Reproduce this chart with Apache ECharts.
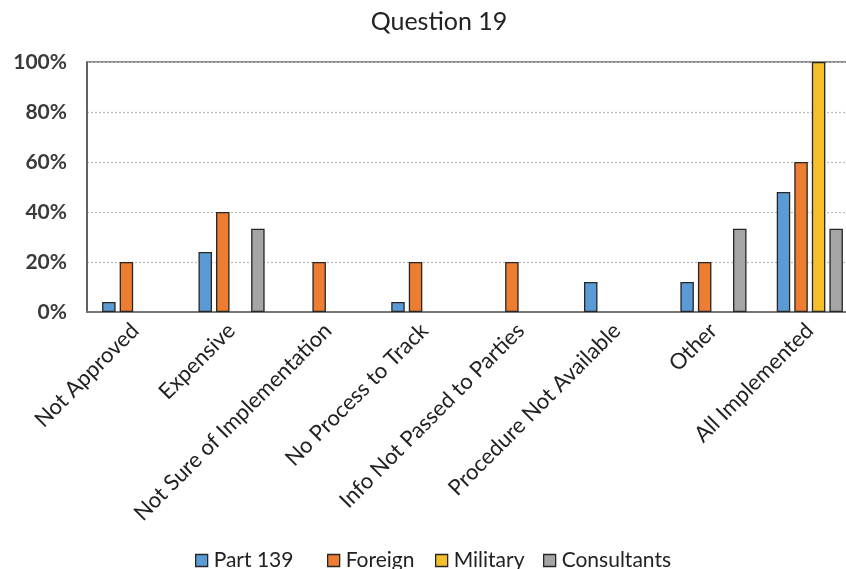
<!DOCTYPE html>
<html>
<head>
<meta charset="utf-8">
<script src="https://cdn.jsdelivr.net/npm/echarts@6/dist/echarts.min.js"></script>
<style>
  html, body { margin: 0; padding: 0; background: #fff; overflow: hidden; }
  #chart { width: 862px; height: 569px; }
</style>
</head>
<body>
<div id="chart"></div>
<script>
// Survey responses for Question 19, percent of respondents per group
const categories = [
  'Not Approved', 'Expensive', 'Not Sure of Implementation', 'No Process to Track',
  'Info Not Passed to Parties', 'Procedure Not Available', 'Other', 'All Implemented'
];
const seriesNames = ['Part 139', 'Foreign', 'Military', 'Consultants'];
const part139     = [4, 24, 0, 4, 0, 12, 12, 48];
const foreign     = [20, 40, 20, 20, 20, 0, 20, 60];
const military    = [0, 0, 0, 0, 0, 0, 0, 100];
const consultants = [0, 33.3, 0, 0, 0, 0, 33.3, 33.3];
const yTicks = [0, 20, 40, 60, 80, 100];

const FONT = 'Lato, "Open Sans", sans-serif';
const colors = ['#5b9bd5', '#ed7d31', '#f5bf2a', '#a5a5a5'];
const legendLeft = [195, 327, 435, 543];
const chart = echarts.init(document.getElementById('chart'));

// groups with no responses get no bar at all
function barSeries(name, data, color) {
  return {
    name: name,
    type: 'bar',
    data: data.map(v => (v === 0 ? '-' : v)),
    barWidth: 13.5,
    barGap: '30%',
    itemStyle: { color: color, borderColor: '#262626', borderWidth: 1.3 }
  };
}

chart.setOption({
  animation: false,
  color: colors,
  title: {
    text: 'Question 19',
    left: 434,
    textAlign: 'center',
    top: 4,
    textStyle: { fontFamily: FONT, fontSize: 25, fontWeight: 'normal', color: '#222' }
  },
  // one legend block per series so each key sits in its own slot
  legend: seriesNames.map((name, i) => ({
    top: 545,
    left: legendLeft[i] - 5,
    itemWidth: 12,
    itemHeight: 12,
    itemGap: 0,
    icon: 'rect',
    textStyle: { fontFamily: FONT, fontSize: 21, color: '#222', padding: [0, 0, 0, 1] },
    data: [name],
    itemStyle: { borderColor: '#262626', borderWidth: 1.3 }
  })),
  grid: {
    left: 87, top: 62, height: 250, width: 771,
    show: true, borderColor: '#666', borderWidth: 1.5, backgroundColor: '#fff'
  },
  xAxis: {
    type: 'category',
    data: categories,
    axisLine: { lineStyle: { color: '#777', width: 2 } },
    axisTick: { show: false },
    axisLabel: {
      rotate: 45, interval: 0, margin: 15,
      fontFamily: FONT, fontSize: 22, color: '#222'
    }
  },
  yAxis: {
    type: 'value',
    min: yTicks[0],
    max: yTicks[yTicks.length - 1],
    interval: 20,
    axisLine: { show: true, lineStyle: { color: '#555', width: 1.5 } },
    axisTick: { show: false },
    axisLabel: {
      formatter: '{value}%', margin: 20,
      fontFamily: FONT, fontSize: 21, fontWeight: 'bold', color: '#3a3a3a'
    },
    splitLine: { lineStyle: { color: '#bbb', type: [2, 2], width: 1.2 } }
  },
  series: [
    barSeries(seriesNames[0], part139, colors[0]),
    barSeries(seriesNames[1], foreign, colors[1]),
    barSeries(seriesNames[2], military, colors[2]),
    barSeries(seriesNames[3], consultants, colors[3])
  ]
});
</script>
</body>
</html>
